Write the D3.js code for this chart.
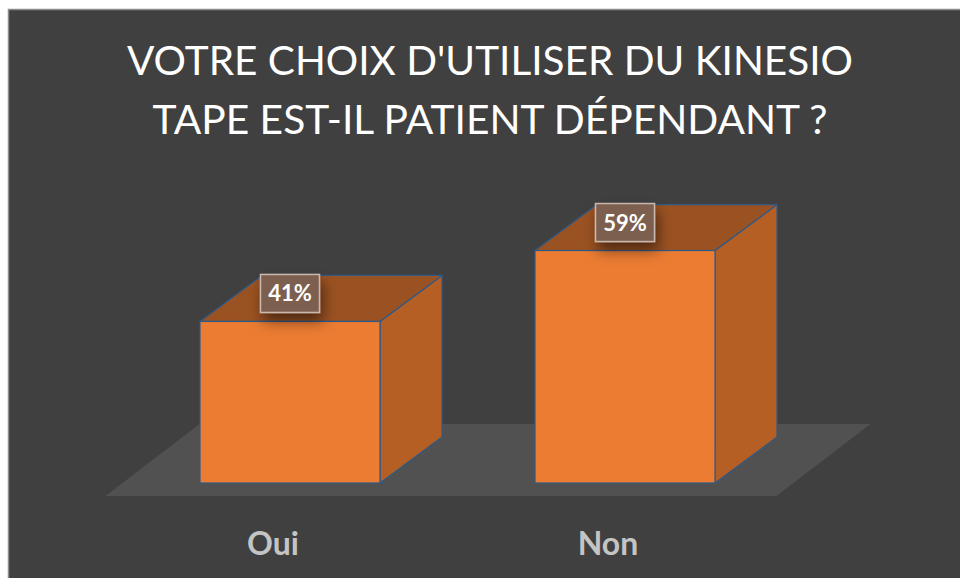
<!DOCTYPE html>
<html>
<head>
	<title>D3.js - Kinesio tape</title>
	<meta charset="utf-8"/>
	<script src="https://cdn.jsdelivr.net/npm/d3@7"></script>
	<style type="text/css">
		body { margin: 0; background: #ffffff; }
		text { font-family: Lato, "Open Sans", sans-serif; }
	</style>
</head>
<body>
	<svg id="chart" width="960" height="578"></svg>
	<script type="text/javascript">

		var titleLines = ["VOTRE CHOIX D'UTILISER DU KINESIO", "TAPE EST-IL PATIENT DÉPENDANT ?"];
		var categories = ["Oui", "Non"];
		var values = [41, 59];
		var valueLabels = ["41%", "59%"];

		var svg = d3.select("#chart");

		// background panel
		svg.append("rect")
			.attr("x", 8.5).attr("y", 9.5)
			.attr("width", 960).attr("height", 580)
			.style("fill", "#404040")
			.style("stroke", "#8c8c8c")
			.style("stroke-width", "1.5px");

		var defs = svg.append("defs");
		var f = defs.append("filter").attr("id", "shadow")
			.attr("x", "-50%").attr("y", "-50%").attr("width", "200%").attr("height", "250%");
		f.append("feDropShadow")
			.attr("dx", 3).attr("dy", 8).attr("stdDeviation", 7)
			.attr("flood-color", "#000").attr("flood-opacity", 0.5);

		// title
		var titleWidths = [726, 675];
		svg.append("g").selectAll("text")
			.data(titleLines).enter()
			.append("text")
				.attr("x", 490)
				.attr("y", function(d, i) { return 75 + i * 59; })
				.attr("text-anchor", "middle")
				.attr("textLength", function(d, i) { return titleWidths[i]; })
				.attr("lengthAdjust", "spacingAndGlyphs")
				.style("font-size", "41px")
				.style("fill", "#ffffff")
				.text(function(d) { return d; });

		var x = d3.scaleBand()
			.domain(categories)
			.range([122.5, 792.5])
			.paddingInner(0.4627)
			.paddingOuter(0.2313);

		var y = d3.scaleLinear()
			.domain([0, 100])
			.range([483, 89]);

		var depth = { dx: 62, dy: -46 };

		// floor
		var fl = x.range()[0] - 17, fr = x.range()[1] - 16, fy = y(0) + 13;
		svg.append("path")
			.attr("d", "M" + fl + "," + fy + "L" + fr + "," + fy +
				"L" + (fr + 94) + "," + (fy - 72) + "L" + (fl + 94) + "," + (fy - 72) + "Z")
			.style("fill", "#525151");

		var data = categories.map(function(c, i) {
			return { cat: c, value: values[i], label: valueLabels[i] };
		});

		var bars = svg.append("g").selectAll("g")
			.data(data).enter()
			.append("g");

		function pts(p) {
			return p.map(function(q) { return q.join(","); }).join(" ");
		}

		// side face
		bars.append("polygon")
			.attr("points", function(d) {
				var x1 = x(d.cat) + x.bandwidth(), t = y(d.value), b = y(0);
				return pts([[x1, t], [x1 + depth.dx, t + depth.dy], [x1 + depth.dx, b + depth.dy], [x1, b]]);
			})
			.style("fill", "#b65f24")
			.style("stroke", "#2e5a88")
			.style("stroke-width", "1.2px")
			.style("stroke-linejoin", "round");

		// top face
		bars.append("polygon")
			.attr("points", function(d) {
				var x0 = x(d.cat), x1 = x0 + x.bandwidth(), t = y(d.value);
				return pts([[x0, t], [x0 + depth.dx, t + depth.dy], [x1 + depth.dx, t + depth.dy], [x1, t]]);
			})
			.style("fill", "#9b5222")
			.style("stroke", "#2e5a88")
			.style("stroke-width", "1.2px")
			.style("stroke-linejoin", "round");

		// front face
		bars.append("rect")
			.attr("x", function(d) { return x(d.cat); })
			.attr("y", function(d) { return y(d.value); })
			.attr("width", x.bandwidth())
			.attr("height", function(d) { return y(0) - y(d.value); })
			.style("fill", "#eb7c32")
			.style("stroke", "#2e5a88")
			.style("stroke-width", "1.2px");

		// data labels
		var lab = bars.append("g")
			.attr("transform", function(d) {
				return "translate(" + (x(d.cat) + x.bandwidth() / 2) + "," + (y(d.value) - 28) + ")";
			});
		lab.append("rect")
			.attr("x", -29.5).attr("y", -19)
			.attr("width", 59).attr("height", 38)
			.style("fill", "#7c5f50")
			.style("stroke", "#c9b8ae")
			.style("stroke-width", "1.5px")
			.attr("filter", "url(#shadow)");
		lab.append("text")
			.attr("text-anchor", "middle")
			.attr("y", 8)
			.style("font-size", "22px")
			.style("font-weight", "bold")
			.style("fill", "#ffffff")
			.text(function(d) { return d.label; });

		// category labels
		svg.append("g").selectAll("text")
			.data(categories).enter()
			.append("text")
				.attr("x", function(d) { return x(d) + x.bandwidth() / 2 - 17; })
				.attr("y", 555)
				.attr("text-anchor", "middle")
				.style("font-size", "32px")
				.style("font-weight", "bold")
				.style("fill", "#c4c4c4")
				.text(function(d) { return d; });

	</script>
</body>
</html>
